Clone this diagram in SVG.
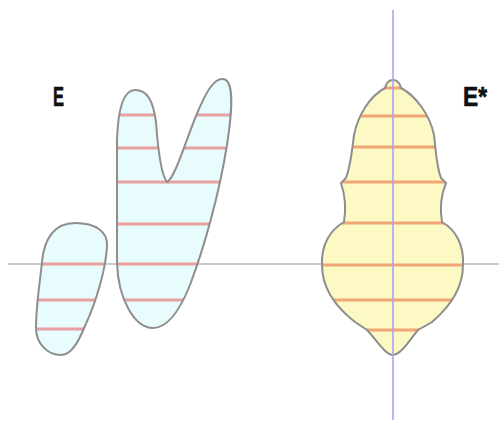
<svg xmlns="http://www.w3.org/2000/svg" width="499" height="423" viewBox="0 0 499 423">
<defs>
<style>
.outline{fill:none;stroke:#8e8e8e;stroke-width:2}
.stripeL{stroke:#e8a0a0;stroke-width:3}
.stripeR{stroke:#f2a676;stroke-width:3}
.lbl{font-family:"Liberation Sans Narrow","Liberation Sans",Arial,sans-serif;font-weight:bold;font-size:27px;fill:#111;stroke:#111;stroke-width:0.7}
</style>
<path id="small" d="M75,223 C96,223 108,232 107,246 C106,268 97,300 85,326 C78,343 71,355 61,355 C47,355 36,343 36,328 C36,305 40,282 42,262 C44,238 55,223 75,223 Z"/>
<path id="big" d="M135,90 C123,90 118,110 117,140 L117,262 C118,300 135,328 153,328 C168,328 180,310 190,285 C204,248 219,195 227,145 C232,112 234,86 226,80 C215,74 205,94 196,116 C186,140 175,178 167,182 C162,176 158,150 156,122 C153,100 147,90 135,90 Z"/>
<path id="bulb" d="M393,80 C388,80 386,84 385,88 C370,96 358,115 354,135 C352,150 351,165 346,178 L341,183 C345,195 346,210 344,222 C330,230 321,245 322,265 C322,285 333,305 355,322 L367,330 C375,338 385,355 393,355 C401,355 411,338 418,330 L432,322 C452,305 463,285 463,265 C464,245 456,230 442,222 C440,210 441,195 446,183 L441,178 C436,165 436,150 434,135 C430,115 416,96 401,88 C400,84 398,80 393,80 Z"/>
<clipPath id="cSmall"><use href="#small"/></clipPath>
<clipPath id="cBig"><use href="#big"/></clipPath>
<clipPath id="cBulb"><use href="#bulb"/></clipPath>
</defs>
<rect width="499" height="423" fill="#fff"/>
<g id="axes">
<line x1="8" y1="264" x2="499" y2="264" stroke="#cacaca" stroke-width="2"/>
</g>
<g id="E-small">
<use href="#small" fill="#e8fbfd"/>
<g clip-path="url(#cSmall)" class="stripeL">
<line x1="20" y1="264" x2="120" y2="264"/>
<line x1="20" y1="300" x2="120" y2="300"/>
<line x1="20" y1="329" x2="120" y2="329"/>
</g>
<use href="#small" class="outline"/>
</g>
<g id="E-big">
<use href="#big" fill="#e8fbfd"/>
<g clip-path="url(#cBig)" class="stripeL">
<line x1="100" y1="115" x2="240" y2="115"/>
<line x1="100" y1="148" x2="240" y2="148"/>
<line x1="100" y1="182" x2="240" y2="182"/>
<line x1="100" y1="224" x2="240" y2="224"/>
<line x1="100" y1="264" x2="240" y2="264"/>
<line x1="100" y1="300" x2="240" y2="300"/>
</g>
<use href="#big" class="outline"/>
</g>
<g id="E-star">
<use href="#bulb" fill="#fdf9c4"/>
<g clip-path="url(#cBulb)" class="stripeR">
<line x1="310" y1="88" x2="480" y2="88"/>
<line x1="310" y1="116" x2="480" y2="116"/>
<line x1="310" y1="147" x2="480" y2="147"/>
<line x1="310" y1="182" x2="480" y2="182"/>
<line x1="310" y1="223" x2="480" y2="223"/>
<line x1="310" y1="265" x2="480" y2="265"/>
<line x1="310" y1="300" x2="480" y2="300"/>
<line x1="310" y1="330" x2="480" y2="330"/>
</g>
<use href="#bulb" class="outline"/>
</g>
<g id="vaxis">
<line x1="393" y1="10" x2="393" y2="420" stroke="#a6a6f2" stroke-width="1.6"/>
</g>
<g id="labels">
<text class="lbl" x="53" y="106" textLength="11" lengthAdjust="spacingAndGlyphs">E</text>
<text class="lbl" x="463" y="106" textLength="24" lengthAdjust="spacingAndGlyphs">E*</text>
</g>
</svg>
